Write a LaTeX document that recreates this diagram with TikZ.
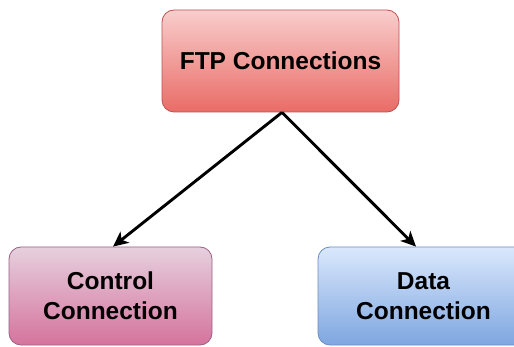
\documentclass[tikz,border=0pt]{standalone}
\usepackage{fontspec}
\setmainfont{Liberation Sans}
\usetikzlibrary{arrows.meta}
\definecolor{redtop}{HTML}{F8CECC}
\definecolor{redbot}{HTML}{EA6B66}
\definecolor{redline}{HTML}{B85450}
\definecolor{pinktop}{HTML}{E6D0DE}
\definecolor{pinkbot}{HTML}{D5739D}
\definecolor{pinkline}{HTML}{996185}
\definecolor{bluetop}{HTML}{DAE8FC}
\definecolor{bluebot}{HTML}{7EA6E0}
\definecolor{blueline}{HTML}{6C8EBF}
\tikzset{
  boxstyle/.style={rounded corners=12pt, line width=0.8pt, align=center,
    inner sep=0pt, font=\fontsize{24.5}{30}\selectfont\bfseries},
  conn/.style={line width=2.9pt, -{Stealth[length=15pt,width=14pt,inset=4pt]}}
}
\begin{document}
\begin{tikzpicture}[x=1pt,y=-1pt]
\useasboundingbox (0,0) rectangle (514,347);
\clip (0,0) rectangle (514,347);
\node[boxstyle, draw=redline, top color=redtop, bottom color=redbot,
  minimum width=237pt, minimum height=102pt] (ftp) at (280.5,61) {FTP Connections};
\node[boxstyle, draw=pinkline, top color=pinktop, bottom color=pinkbot,
  minimum width=203pt, minimum height=98pt] (ctrl) at (110.5,296) {Control\\Connection};
\node[boxstyle, draw=blueline, top color=bluetop, bottom color=bluebot,
  minimum width=211pt, minimum height=98pt] (data) at (423.5,296) {Data\\Connection};
\draw[conn] ([xshift=1.5pt]ftp.south) -- ([xshift=2.5pt]ctrl.north);
\draw[conn] ([xshift=1.5pt]ftp.south) -- ([xshift=-7.5pt]data.north);
\end{tikzpicture}
\end{document}
